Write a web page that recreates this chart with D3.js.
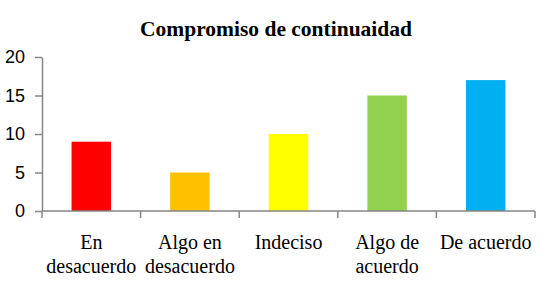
<!DOCTYPE html>
<html>
<head>
<meta charset="utf-8">
<script src="https://cdn.jsdelivr.net/npm/d3@7"></script>
<style>
  body { margin: 0; background: #fff; }
  svg { display: block; }
</style>
</head>
<body>
<div class="chart-container"></div>
<script>
// Data
const categories = [['En', 'desacuerdo'], ['Algo en', 'desacuerdo'], ['Indeciso'], ['Algo de', 'acuerdo'], ['De acuerdo']];
const values = [9, 5, 10, 15, 17];
const barColors = ['#ff0000', '#ffc000', '#ffff00', '#92d050', '#00b0f0'];
const yTicks = [0, 5, 10, 15, 20];
const title = 'Compromiso de continuaidad';

// Setup
const W = 550, H = 294;
const margin = { top: 57, right: 15, bottom: 83, left: 42 };
const width = W - margin.left - margin.right;
const height = H - margin.top - margin.bottom;
const axisColor = '#868686';

const svg = d3.select('.chart-container')
    .append('svg')
    .attr('width', W)
    .attr('height', H);

svg.append('text')
    .attr('x', 276)
    .attr('y', 36)
    .attr('text-anchor', 'middle')
    .style('font-family', '"Liberation Serif", "Times New Roman", serif')
    .style('font-weight', 'bold')
    .style('font-size', '21.5px')
    .text(title);

const g = svg.append('g')
    .attr('transform', `translate(${margin.left},${margin.top})`);

// Scales
const idx = categories.map((c, i) => i);
const x = d3.scaleBand().domain(idx).range([0, width]).paddingInner(0.6).paddingOuter(0.3);
const xb = d3.scaleBand().domain(idx).range([0, width]);
const y = d3.scaleLinear().domain([0, 20]).range([height, 0]);

// Bars
g.selectAll('.bar')
    .data(values)
    .enter()
    .append('rect')
    .attr('class', 'bar')
    .attr('x', (d, i) => x(i))
    .attr('y', d => y(d))
    .attr('width', x.bandwidth())
    .attr('height', d => height - y(d))
    .attr('fill', (d, i) => barColors[i]);

// Y axis
const yAxis = g.append('g')
    .call(d3.axisLeft(y).tickValues(yTicks).tickSize(7).tickSizeOuter(0).tickPadding(10));
yAxis.select('.domain').attr('stroke', axisColor).attr('stroke-width', 1.5);
yAxis.selectAll('.tick line').attr('stroke', axisColor).attr('stroke-width', 1.5);
yAxis.selectAll('.tick text')
    .attr('fill', '#000')
    .style('font-family', '"Liberation Sans", Arial, sans-serif')
    .style('font-size', '18px');

// X axis: ticks at band boundaries
const xAxisG = g.append('g').attr('transform', `translate(0,${height})`);
xAxisG.append('line')
    .attr('x1', 0).attr('x2', width)
    .attr('stroke', axisColor).attr('stroke-width', 1.5);
const bounds = idx.map(i => xb(i)).concat([width]);
xAxisG.selectAll('.xtick')
    .data(bounds)
    .enter()
    .append('line')
    .attr('class', 'xtick')
    .attr('x1', d => d).attr('x2', d => d)
    .attr('y1', 0).attr('y2', 7)
    .attr('stroke', axisColor).attr('stroke-width', 1.5);

// Category labels
const labels = xAxisG.selectAll('.xlabel')
    .data(categories)
    .enter()
    .append('text')
    .attr('class', 'xlabel')
    .attr('text-anchor', 'middle')
    .attr('transform', (d, i) => `translate(${xb(i) + xb.bandwidth() / 2},38)`)
    .style('font-family', '"Liberation Serif", "Times New Roman", serif')
    .style('font-size', '20px');
labels.selectAll('tspan')
    .data(d => d)
    .enter()
    .append('tspan')
    .attr('x', 0)
    .attr('y', (d, j) => j * 24)
    .text(d => d);
</script>
</body>
</html>
